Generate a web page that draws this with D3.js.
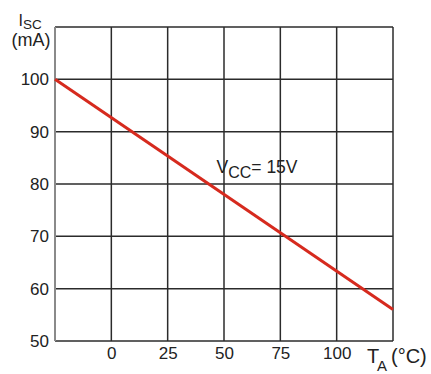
<!DOCTYPE html>
<html>
<head>
<meta charset="utf-8">
<script src="https://cdn.jsdelivr.net/npm/d3@7"></script>
<style>
  body { margin: 0; background: #fff; }
  text { font-family: "Liberation Sans", Arial, sans-serif; fill: #222; }
</style>
</head>
<body>
<div id="chart"></div>
<script>
// Data
const tempTicks = [0, 25, 50, 75, 100];
const currentTicks = [50, 60, 70, 80, 90, 100];
const lineTemps = [-25, 125];
const lineCurrents = [100, 56];

const width = 431, height = 374;
const margin = { left: 55, top: 27, right: 38, bottom: 33 };
const innerWidth = width - margin.left - margin.right;
const innerHeight = height - margin.top - margin.bottom;

const svg = d3.select("#chart")
    .append("svg")
    .attr("width", width)
    .attr("height", height);

const innerChart = svg.append("g")
    .attr("transform", `translate(${margin.left},${margin.top})`);

const xScale = d3.scaleLinear().domain([-25, 125]).range([0, innerWidth]);
const yScale = d3.scaleLinear().domain([50, 110]).range([innerHeight, 0]);

// grid lines
const gridX = d3.range(-25, 126, 25);
innerChart.selectAll(".vgrid")
    .data(gridX.slice(1))
    .join("line")
    .attr("x1", d => xScale(d)).attr("x2", d => xScale(d))
    .attr("y1", 0).attr("y2", innerHeight)
    .attr("stroke", "#2b2b2b").attr("stroke-width", 1.5);

const gridY = d3.range(50, 111, 10);
innerChart.selectAll(".hgrid")
    .data(gridY)
    .join("line")
    .attr("x1", 0).attr("x2", innerWidth)
    .attr("y1", d => yScale(d)).attr("y2", d => yScale(d))
    .attr("stroke", "#2b2b2b").attr("stroke-width", 1.5);

// left axis line (grey)
innerChart.append("line")
    .attr("x1", 0).attr("x2", 0)
    .attr("y1", 0).attr("y2", innerHeight)
    .attr("stroke", "#8a8a8a").attr("stroke-width", 2);

// tick labels via d3 axes
const leftAxis = d3.axisLeft(yScale).tickValues(currentTicks).tickSize(0).tickPadding(6);
const yAxisGroup = innerChart.append("g").call(leftAxis);
yAxisGroup.attr("font-size", 17).attr("font-family", "Liberation Sans, Arial, sans-serif");
yAxisGroup.select(".domain").remove();
yAxisGroup.selectAll("text").attr("fill", "#222");

const bottomAxis = d3.axisBottom(xScale).tickValues(tempTicks).tickSize(0).tickPadding(6);
const xAxisGroup = innerChart.append("g")
    .attr("transform", `translate(0,${innerHeight})`)
    .call(bottomAxis);
xAxisGroup.attr("font-size", 17).attr("font-family", "Liberation Sans, Arial, sans-serif");
xAxisGroup.select(".domain").remove();
xAxisGroup.selectAll("text").attr("fill", "#222");

// the red line
const line = d3.line()
    .x((d, i) => xScale(lineTemps[i]))
    .y(d => yScale(d));

innerChart.append("path")
    .datum(lineCurrents)
    .attr("d", line)
    .attr("fill", "none")
    .attr("stroke", "#d62a1e")
    .attr("stroke-width", 3);

// axis titles
const yTitle = svg.append("text")
    .attr("x", 18.5).attr("y", 26)
    .attr("font-size", 16);
yTitle.append("tspan").text("I");
yTitle.append("tspan").attr("dy", 3).attr("font-size", 13.5).text("SC");

svg.append("text")
    .attr("x", 11.5).attr("y", 46)
    .attr("font-size", 18)
    .text("(mA)");

svg.append("text")
    .attr("x", 367).attr("y", 363)
    .attr("font-size", 20)
    .text("T");
svg.append("text")
    .attr("x", 377).attr("y", 370.5)
    .attr("font-size", 15)
    .text("A");
svg.append("text")
    .attr("x", 391).attr("y", 363)
    .attr("font-size", 20)
    .text("(°C)");

// annotation
const note = svg.append("text")
    .attr("x", 216.5).attr("y", 172.5)
    .attr("font-size", 17.5);
note.append("tspan").text("V");
note.append("tspan").attr("dy", 5).attr("font-size", 16).text("CC");
note.append("tspan").attr("dy", -5).text("= 15V");
</script>
</body>
</html>
